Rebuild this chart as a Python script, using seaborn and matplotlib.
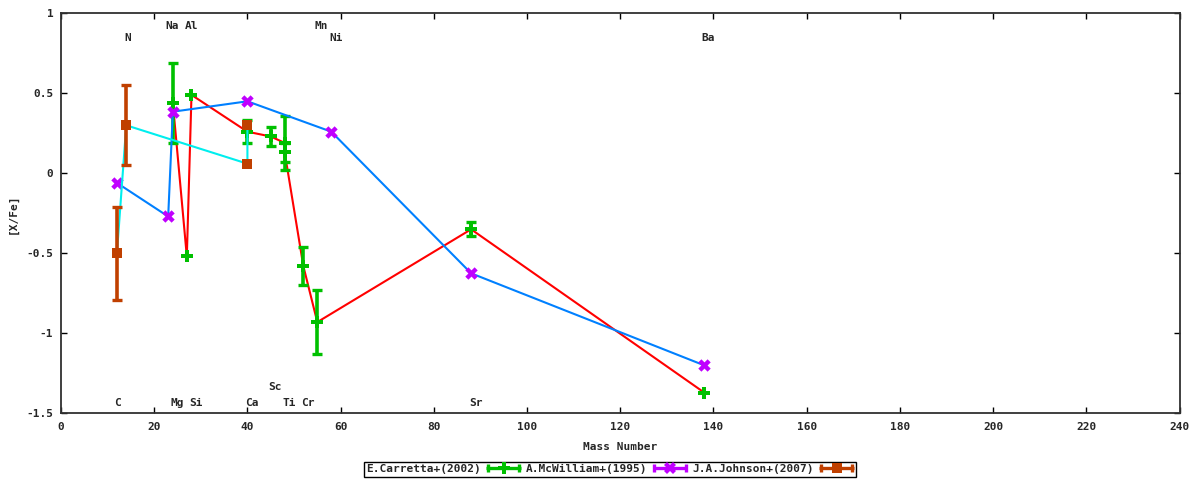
import numpy as np
import pandas as pd
import matplotlib
matplotlib.use("Agg")
import matplotlib.pyplot as plt
import seaborn as sns
from matplotlib.legend_handler import HandlerBase
from matplotlib.lines import Line2D
from matplotlib.ticker import MultipleLocator, FormatStrFormatter

# ---------------- data ----------------
carretta_mass = [24, 27, 28, 40, 45, 48, 48, 52, 55, 88, 138]
carretta_xfe = [0.44, -0.52, 0.49, 0.26, 0.23, 0.19, 0.13, -0.58, -0.93, -0.35, -1.37]
carretta_err = [0.25, 0.0, 0.0, 0.07, 0.06, 0.17, 0.06, 0.12, 0.20, 0.043, 0.0]

mcwilliam_mass = [12, 23, 24, 40, 58, 88, 138]
mcwilliam_xfe = [-0.06, -0.27, 0.385, 0.45, 0.26, -0.625, -1.20]
mcwilliam_err = [0.0, 0.0, 0.0, 0.0, 0.0, 0.0, 0.0]

johnson_mass = [12, 14, 40, 40]
johnson_xfe = [-0.50, 0.30, 0.06, 0.30]
johnson_err = [0.29, 0.25, 0.0, 0.0]

series_labels = ["E.Carretta+(2002)", "A.McWilliam+(1995)", "J.A.Johnson+(2007)"]

element_names = ["N", "Na", "Al", "Mn", "Ni", "Ba",
                 "C", "Mg", "Si", "Ca", "Sc", "Ti", "Cr", "Sr"]
element_mass = [14, 23, 27, 55, 58, 138,
                12, 24, 28, 40, 45, 48, 52, 88]
element_row = ["top2", "top1", "top1", "top1", "top2", "top2",
               "bot1", "bot1", "bot1", "bot1", "bot2", "bot1", "bot1", "bot1"]

# ---------------- style ----------------
sns.set_style("ticks")
plt.rcParams["font.family"] = ["DejaVu Sans Mono", "DejaVu Sans"]
plt.rcParams["font.weight"] = "bold"
plt.rcParams["axes.unicode_minus"] = False
FS = 8

row_y = {"top1": 0.92, "top2": 0.846, "bot1": -1.435, "bot2": -1.336}

styles = [
    dict(line="#ff0000", point="#00c000", marker="P", s=70, ms=8.0, z=2),
    dict(line="#0080ff", point="#c000ff", marker="X", s=80, ms=8.4, z=3),
    dict(line="#00eeee", point="#c04000", marker="s", s=52, ms=6.6, z=4),
]
datasets = [
    (carretta_mass, carretta_xfe, carretta_err),
    (mcwilliam_mass, mcwilliam_xfe, mcwilliam_err),
    (johnson_mass, johnson_xfe, johnson_err),
]

fig = plt.figure(figsize=(12, 4.8), dpi=100)
fig.patch.set_facecolor("white")
ax = fig.add_axes([61 / 1200, 1 - 413.3 / 480, (1179.5 - 61) / 1200, 400 / 480])
ax.set_facecolor("white")

proxies = []
for (mass, xfe, err), st in zip(datasets, styles):
    df = pd.DataFrame({"mass": mass, "xfe": xfe, "err": err})
    sns.lineplot(data=df, x="mass", y="xfe", sort=False, estimator=None,
                 color=st["line"], lw=1.5, ax=ax, zorder=st["z"])
    de = df[df["err"] > 0]
    if len(de):
        ax.errorbar(de["mass"], de["xfe"], yerr=de["err"], fmt="none",
                    ecolor=st["point"], elinewidth=2.6, capsize=3.4,
                    capthick=2.4, zorder=st["z"] + 0.1)
    sns.scatterplot(data=df, x="mass", y="xfe", marker=st["marker"], s=st["s"],
                    color=st["point"], linewidth=0, ax=ax, zorder=st["z"] + 0.2,
                    legend=False)
    proxies.append(Line2D([], [], color=st["point"], marker=st["marker"],
                          markersize=st["ms"]))

# element labels
for name, m, r in zip(element_names, element_mass, element_row):
    ax.text(m - 0.5, row_y[r], name, ha="left", va="center", fontsize=FS,
            fontweight="bold", zorder=10)

ax.set_xlim(0, 240)
ax.set_ylim(-1.5, 1)
ax.xaxis.set_major_locator(MultipleLocator(20))
ax.yaxis.set_major_locator(MultipleLocator(0.5))
ax.xaxis.set_major_formatter(FormatStrFormatter("%g"))
ax.yaxis.set_major_formatter(FormatStrFormatter("%g"))
ax.tick_params(axis="both", which="both", direction="in", length=4.5, width=1,
               top=True, right=True, labelsize=FS, color="black")
ax.tick_params(axis="y", pad=5.5)
ax.tick_params(axis="x", pad=6.5)
for sp in ax.spines.values():
    sp.set_visible(True)
    sp.set_color("#303030")
    sp.set_linewidth(1.3)

ax.set_xlabel("Mass Number", fontsize=FS, fontweight="bold")
ax.set_ylabel("[X/Fe]", fontsize=FS, fontweight="bold")
ax.xaxis.set_label_coords(0.5, (413.3 - 441.5) / 400)
ax.yaxis.set_label_coords((17.5 - 61) / 1118.5, 0.5)


class ErrKeyHandler(HandlerBase):
    def create_artists(self, legend, orig_handle, xdescent, ydescent, width,
                       height, fontsize, trans):
        c = orig_handle.get_color()
        m = orig_handle.get_marker()
        ms = orig_handle.get_markersize()
        y = height / 2 - ydescent
        x0, x1 = -xdescent, width - xdescent
        bar = Line2D([x0, x1], [y, y], color=c, lw=2.4, solid_capstyle="butt")
        caps = Line2D([x0 + 1, x1 - 1], [y, y], ls="none", marker="|", ms=5.5,
                      mew=2.4, color=c)
        pt = Line2D([(x0 + x1) / 2], [y], ls="none", marker=m, ms=ms,
                    color=c, mew=0)
        for a in (bar, caps, pt):
            a.set_transform(trans)
        return [bar, caps, pt]


h = ErrKeyHandler()
leg = fig.legend(proxies, series_labels, loc="center",
                 bbox_to_anchor=(610 / 1200, 1 - 469.3 / 480), ncol=3,
                 markerfirst=False, frameon=True, fancybox=False,
                 edgecolor="black", framealpha=1, handlelength=3.1,
                 handletextpad=0.5, columnspacing=0.45, borderpad=0.22,
                 borderaxespad=0, handleheight=0.6,
                 prop={"size": FS, "weight": "bold",
                       "family": ["DejaVu Sans Mono", "DejaVu Sans"]},
                 handler_map={p: h for p in proxies})
leg.get_frame().set_linewidth(1.0)

fig.savefig("out.png", dpi=100, facecolor="white")
